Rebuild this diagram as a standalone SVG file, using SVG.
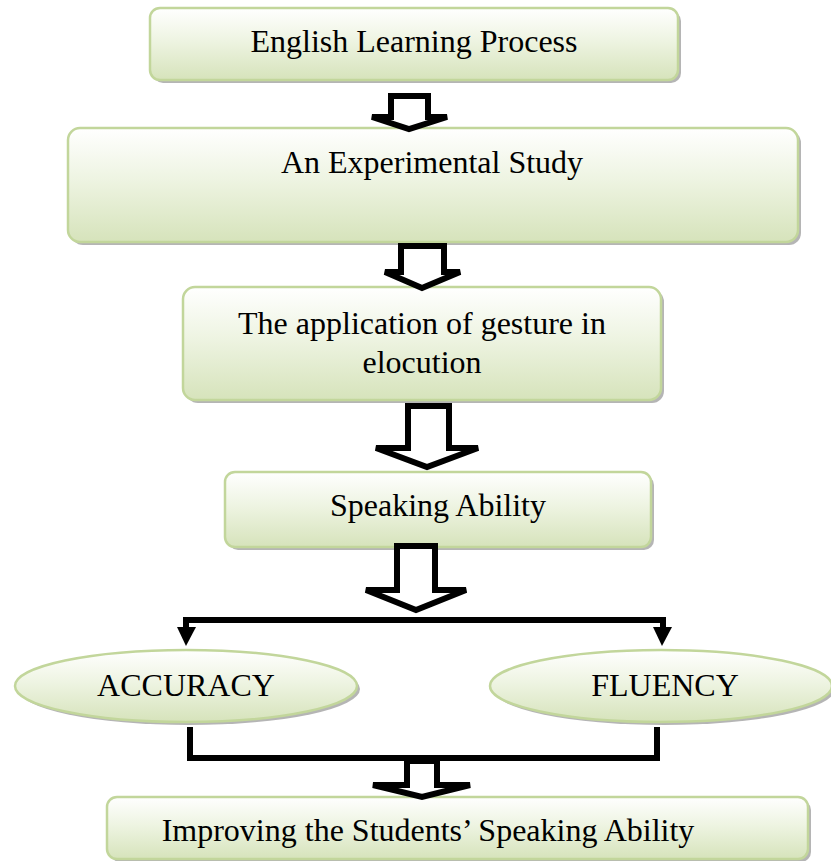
<svg xmlns="http://www.w3.org/2000/svg" width="831" height="861" viewBox="0 0 831 861">
<style>
.box{fill:url(#g);stroke:#c2d69b;stroke-width:2.5}
.sh{fill:#a3a3a3;opacity:0.8}
.t{font-family:"Liberation Serif","Times New Roman",serif;font-size:32px;fill:#000;text-anchor:middle}
.ha{fill:#fff;stroke:#000;stroke-width:6;stroke-linejoin:miter}
.ln{fill:none;stroke:#000;stroke-width:6}
</style>
<defs>
<linearGradient id="g" x1="0" y1="0" x2="0" y2="1">
<stop offset="0" stop-color="#ffffff"/>
<stop offset="0.45" stop-color="#eef4e2"/>
<stop offset="1" stop-color="#d6e3bb"/>
</linearGradient>
</defs>
<g id="n1">
<rect class="sh" x="153" y="11" width="528" height="72" rx="10"/>
<rect class="box" x="150" y="8" width="528" height="72" rx="10"/>
<text class="t" x="414" y="52">English Learning Process</text>
</g>
<g id="n2">
<rect class="sh" x="71" y="131" width="730" height="114" rx="12"/>
<rect class="box" x="68" y="128" width="730" height="114" rx="12"/>
<text class="t" x="432" y="173">An Experimental Study</text>
</g>
<g id="n3">
<rect class="sh" x="186" y="290" width="478" height="113" rx="12"/>
<rect class="box" x="183" y="287" width="478" height="113" rx="12"/>
<text class="t" x="422" y="334">The application of gesture in</text>
<text class="t" x="422" y="373">elocution</text>
</g>
<g id="n4">
<rect class="sh" x="228" y="475" width="426" height="75" rx="10"/>
<rect class="box" x="225" y="472" width="426" height="75" rx="10"/>
<text class="t" x="438" y="516">Speaking Ability</text>
</g>
<g id="n5">
<ellipse class="sh" cx="189" cy="689" rx="171" ry="36"/>
<ellipse class="box" cx="186" cy="686" rx="171" ry="36"/>
<text class="t" x="186" y="696">ACCURACY</text>
</g>
<g id="n6">
<ellipse class="sh" cx="664" cy="689" rx="171" ry="36"/>
<ellipse class="box" cx="661" cy="686" rx="171" ry="36"/>
<text class="t" x="665" y="696">FLUENCY</text>
</g>
<g id="n7">
<rect class="sh" x="110" y="800" width="701" height="62" rx="10"/>
<rect class="box" x="107" y="797" width="701" height="62" rx="10"/>
<text class="t" x="428" y="841">Improving the Students’ Speaking Ability</text>
</g>
<g id="connectors">
<polygon class="ha" points="391,96 428,96 428,117 447,117 409,129 372,117 391,117"/>
<polygon class="ha" points="401,246 444,246 444,272 460,272 422,288 385,272 401,272"/>
<polygon class="ha" points="408,406 449,406 449,448 478,448 427,467 376,448 408,448"/>
<polygon class="ha" points="397,546 435,546 435,590 466,590 416,610 366,590 397,590"/>
<path class="ln" d="M186,630 V620 H663 V630"/>
<polygon points="177,627 196,627 186,646"/>
<polygon points="653,627 672,627 662,646"/>
<path class="ln" d="M190,727 V758 H657 V727"/>
<polygon class="ha" points="407,761 437,761 437,785 470,785 422,797 373,785 407,785"/>
</g>
</svg>
